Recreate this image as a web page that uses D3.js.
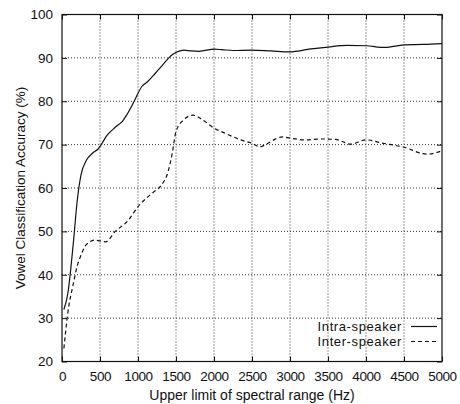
<!DOCTYPE html>
<html><head><meta charset="utf-8">
<script src="https://cdn.jsdelivr.net/npm/d3@7"></script>
<style>body{margin:0;background:#fff}text{font-family:"Liberation Sans",Arial,sans-serif;fill:#111}</style>
</head><body><svg id="c" width="460" height="404"></svg>
<script>
const xTicks = [0,500,1000,1500,2000,2500,3000,3500,4000,4500,5000];
const yTicks = [20,30,40,50,60,70,80,90,100];
const seriesNames = ["Intra-speaker","Inter-speaker"];
const intraX = [25,75,150,200,250,325,400,475,600,700,800,850,950,1050,1125,1225,1325,1450,1550,1600,1700,1800,1900,2000,2100,2250,2500,2750,3000,3250,3500,3750,4000,4250,4500,4750,5000];
const intraY = [32,35.5,47.5,57,63,66.5,68,69,72.3,74,75.5,76.8,80,83.4,84.5,86.4,88.4,90.7,91.6,91.8,91.6,91.5,91.8,92.0,91.9,91.7,91.8,91.6,91.4,92.0,92.5,92.9,92.8,92.4,93.0,93.1,93.3];
const interX = [25,75,150,200,250,300,350,425,500,575,700,875,1000,1100,1200,1300,1400,1450,1500,1600,1725,1850,2000,2150,2350,2500,2600,2700,2800,2900,3000,3200,3400,3600,3800,4000,4200,4500,4800,5000];
const interY = [23,31,38,42,44.5,46.5,47.4,48,47.8,47.6,50,52.6,55.7,57.5,59,60.5,64,68,73,75.7,76.8,75.7,73.8,72.6,71.1,70.3,69.5,70.2,71.2,71.8,71.5,71.1,71.3,71.2,70.1,71.1,70.4,69.4,67.8,68.6];

const svg = d3.select("#c");
const L=62,R=442,T=14.5,B=361.5;
const x = d3.scaleLinear().domain([0,5000]).range([L,R]);
const y = d3.scaleLinear().domain([20,100]).range([B,T]);

// grid
const g = svg.append("g");
g.selectAll(".gx").data(xTicks.slice(1,-1)).enter().append("line")
  .attr("x1",d=>x(d)).attr("x2",d=>x(d)).attr("y1",T).attr("y2",B)
  .attr("stroke","#333").attr("stroke-width",1).attr("stroke-dasharray","1,2");
g.selectAll(".gy").data(yTicks.slice(1,-1)).enter().append("line")
  .attr("y1",d=>y(d)).attr("y2",d=>y(d)).attr("x1",L).attr("x2",R)
  .attr("stroke","#333").attr("stroke-width",1).attr("stroke-dasharray","1,2");

// axes
const ax = svg.append("g").attr("transform",`translate(0,${B})`)
  .call(d3.axisBottom(x).tickValues(xTicks).tickSize(-5).tickPadding(10).tickFormat(d3.format("d")));
const axT = svg.append("g").attr("transform",`translate(0,${T})`)
  .call(d3.axisTop(x).tickValues(xTicks).tickSize(-5).tickFormat(""));
const ay = svg.append("g").attr("transform",`translate(${L},0)`)
  .call(d3.axisLeft(y).tickValues(yTicks).tickSize(-5).tickPadding(9));
const ayR = svg.append("g").attr("transform",`translate(${R},0)`)
  .call(d3.axisRight(y).tickValues(yTicks).tickSize(-5).tickFormat(""));
[ax,axT,ay,ayR].forEach(a=>{
  a.select(".domain").remove();
  a.selectAll("line").attr("stroke","#111");
  a.selectAll("text").attr("font-size",13.5).attr("font-family","Liberation Sans, Arial, sans-serif").attr("fill","#111");
});
ax.selectAll("text").attr("letter-spacing","-0.4");
svg.append("rect").attr("x",L).attr("y",T).attr("width",R-L).attr("height",B-T)
  .attr("fill","none").attr("stroke","#111").attr("stroke-width",1.2);

// lines
const line = d3.line().x(d=>x(d[0])).y(d=>y(d[1])).curve(d3.curveMonotoneX);
svg.append("path").datum(intraX.map((v,i)=>[v,intraY[i]])).attr("d",line)
  .attr("fill","none").attr("stroke","#111").attr("stroke-width",1.2);
svg.append("path").datum(interX.map((v,i)=>[v,interY[i]])).attr("d",line)
  .attr("fill","none").attr("stroke","#111").attr("stroke-width",1.2).attr("stroke-dasharray","4,3");

// legend
const leg = [[seriesNames[0],null,326.5],[seriesNames[1],"4,3",341.5]];
leg.forEach(([t,dash,yy])=>{
  svg.append("text").attr("x",402).attr("y",yy).attr("dy","0.35em").attr("text-anchor","end")
    .attr("font-size",13).attr("letter-spacing","0.6").text(t);
  const l = svg.append("line").attr("x1",411).attr("x2",437).attr("y1",yy).attr("y2",yy)
    .attr("stroke","#111").attr("stroke-width",1.2);
  if(dash) l.attr("stroke-dasharray",dash);
});

// titles
svg.append("text").attr("x",(L+R)/2).attr("y",400).attr("text-anchor","middle")
  .attr("font-size",14).text("Upper limit of spectral range (Hz)");
svg.append("text").attr("transform",`translate(25,${(T+B)/2}) rotate(-90)`)
  .attr("text-anchor","middle").attr("font-size",13.5).text("Vowel Classification Accuracy (%)");
</script></body></html>
